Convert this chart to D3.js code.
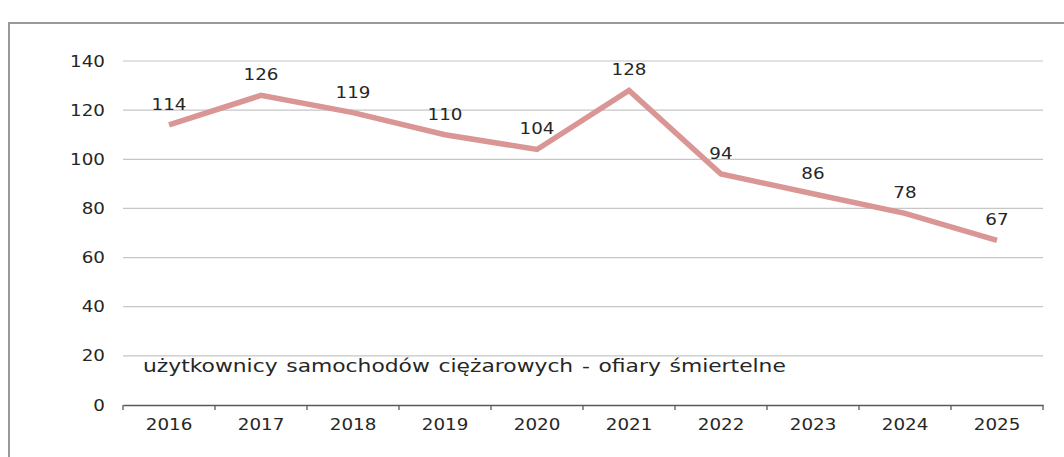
<!DOCTYPE html>
<html>
<head>
<meta charset="utf-8">
<script src="https://cdn.jsdelivr.net/npm/d3@7"></script>
<style>
  html, body { margin: 0; padding: 0; background: #fff; }
  svg { display: block; }
  text { font-family: "DejaVu Sans", Verdana, sans-serif; fill: #262626; }
</style>
</head>
<body>
<svg id="chart" width="1064" height="457"></svg>
<script>
// Fatalities among truck users, per year
const years = ["2016", "2017", "2018", "2019", "2020", "2021", "2022", "2023", "2024", "2025"];
const fatalities = [114, 126, 119, 110, 104, 128, 94, 86, 78, 67];
const yTicks = [0, 20, 40, 60, 80, 100, 120, 140];
const seriesLabel = "użytkownicy samochodów ciężarowych - ofiary śmiertelne";

const svg = d3.select("#chart");
const W = 1064, H = 457;
const plot = { left: 123, right: 1043, top: 61, bottom: 405 };
const stretch = 1.18; // horizontal glyph stretch

// chart frame
svg.append("rect")
  .attr("x", 9).attr("y", 23)
  .attr("width", W + 20).attr("height", H + 20)
  .attr("fill", "#fff")
  .attr("stroke", "#999").attr("stroke-width", 2);

const x = d3.scaleBand().domain(years).range([plot.left, plot.right]).padding(0);
const y = d3.scaleLinear().domain([0, 140]).range([plot.bottom, plot.top]);

// horizontal gridlines
svg.append("g")
  .selectAll("line")
  .data(yTicks.filter(d => d > 0))
  .join("line")
  .attr("x1", plot.left).attr("x2", plot.right)
  .attr("y1", d => y(d)).attr("y2", d => y(d))
  .attr("stroke", "#c6c6c6").attr("stroke-width", 1.2);

function stretchedText(sel) {
  return sel.each(function () {
    const t = d3.select(this);
    const tx = +t.attr("data-x"), ty = +t.attr("data-y");
    t.attr("transform", `translate(${tx},${ty}) scale(${stretch},1)`);
  });
}

// y axis labels
svg.append("g")
  .selectAll("text")
  .data(yTicks)
  .join("text")
  .attr("data-x", 105)
  .attr("data-y", d => y(d) + 5.5)
  .attr("text-anchor", "end")
  .attr("font-size", 15.5)
  .text(d => d)
  .call(stretchedText);

// x axis
const xAxis = d3.axisBottom(x).tickSize(0).tickFormat("");
const gx = svg.append("g").attr("transform", `translate(0,${plot.bottom})`).call(xAxis);
gx.select(".domain").attr("stroke", "#595959").attr("stroke-width", 1.3);
// category boundary ticks
const bounds = years.map(d => x(d)).concat([plot.right]);
svg.append("g")
  .selectAll("line")
  .data(bounds)
  .join("line")
  .attr("x1", d => d).attr("x2", d => d)
  .attr("y1", plot.bottom).attr("y2", plot.bottom + 5)
  .attr("stroke", "#595959").attr("stroke-width", 1.3);

svg.append("g")
  .selectAll("text")
  .data(years)
  .join("text")
  .attr("data-x", d => x(d) + x.bandwidth() / 2)
  .attr("data-y", plot.bottom + 25)
  .attr("text-anchor", "middle")
  .attr("font-size", 15.5)
  .text(d => d)
  .call(stretchedText);

// series line
const line = d3.line()
  .x((d, i) => x(years[i]) + x.bandwidth() / 2)
  .y(d => y(d));

svg.append("path")
  .datum(fatalities)
  .attr("d", line)
  .attr("fill", "none")
  .attr("stroke", "#d99694")
  .attr("stroke-width", 5.5)
  .attr("stroke-linejoin", "miter")
  .attr("stroke-linecap", "butt");

// data labels
svg.append("g")
  .selectAll("text")
  .data(fatalities)
  .join("text")
  .attr("data-x", (d, i) => x(years[i]) + x.bandwidth() / 2)
  .attr("data-y", d => y(d) - 15)
  .attr("text-anchor", "middle")
  .attr("font-size", 15.5)
  .text(d => d)
  .call(stretchedText);

// series caption
svg.append("text")
  .attr("data-x", 143)
  .attr("data-y", 372)
  .attr("font-size", 18.5)
  .attr("word-spacing", 1.5)
  .text(seriesLabel)
  .call(stretchedText);
</script>
</body>
</html>
